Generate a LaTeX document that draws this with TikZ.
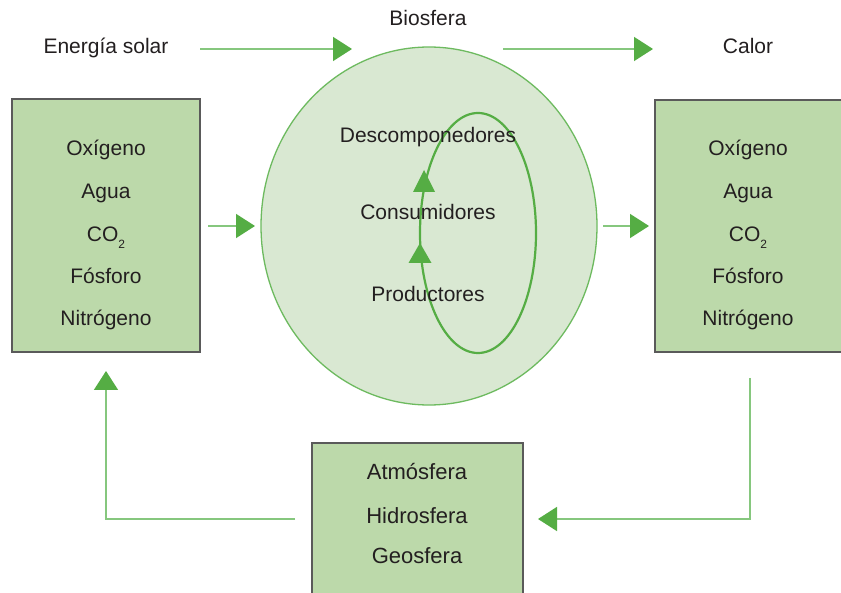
\documentclass[tikz,border=0pt]{standalone}
\usepackage{fontspec}
\setmainfont{Liberation Sans}
\usetikzlibrary{arrows.meta,shapes.geometric}
\definecolor{boxfill}{HTML}{BCD9AA}
\definecolor{boxdraw}{HTML}{5A5A5A}
\definecolor{biofill}{HTML}{D9E8D2}
\definecolor{biodraw}{HTML}{6DBA5F}
\definecolor{linegreen}{HTML}{86C77E}
\definecolor{tipgreen}{HTML}{55AD44}
\definecolor{textcol}{HTML}{231F20}
\tikzset{
  lbl/.style={anchor=base, inner sep=0pt, text=textcol, font=\fontsize{21}{25}\selectfont},
  blbl/.style={anchor=base, inner sep=0pt, text=textcol, font=\fontsize{22}{26}\selectfont},
  stockbox/.style={draw=boxdraw, fill=boxfill, line width=1.3pt, inner sep=0pt},
  flow/.style={draw=linegreen, line width=1.5pt, -{Triangle[length=19pt,width=24pt,color=tipgreen]}},
  looptip/.style={fill=tipgreen},
}
\newcommand{\cotwo}{CO\raisebox{-7pt}{\fontsize{12}{12}\selectfont 2}}
\begin{document}
\begin{tikzpicture}[x=1pt,y=-1pt]
\clip (0,0) rectangle (841,593);
\fill[white] (0,0) rectangle (841,593);

% boxes
\node[stockbox, minimum width=188pt, minimum height=253pt] (lbox) at (106,225.5) {};
\node[stockbox, minimum width=190pt, minimum height=252pt] (rbox) at (750,226) {};
\node[stockbox, minimum width=211pt, minimum height=157pt] (bbox) at (417.5,521.5) {};

% biosphere
\node[ellipse, draw=biodraw, fill=biofill, line width=1.3pt, minimum width=336pt, minimum height=358pt, inner sep=0pt] (bio) at (429,226) {};
\node[ellipse, draw=tipgreen, line width=2.2pt, minimum width=116pt, minimum height=240pt, inner sep=0pt] (loop) at (478,233) {};
\fill[looptip] (424,170) -- (413,192) -- (435,192) -- cycle;
\fill[looptip] (420,243) -- (408.5,263) -- (431.5,263) -- cycle;

% top labels
\node[lbl] (energia) at (106,54) {Energía solar};
\node[lbl] (biosfera) at (428,26) {Biosfera};
\node[lbl] (calor) at (748,54) {Calor};

% biosphere labels
\node[lbl] (desc) at (428,143) {Descomponedores};
\node[lbl] (cons) at (428,220) {Consumidores};
\node[lbl] (prod) at (428,302) {Productores};

% left box labels
\node[lbl] (lo) at (106,156) {Oxígeno};
\node[lbl] (la) at (106,199) {Agua};
\node[lbl] (lc) at (106,242) {\cotwo};
\node[lbl] (lf) at (106,284) {Fósforo};
\node[lbl] (ln) at (106,326) {Nitrógeno};

% right box labels
\node[lbl] (ro) at (748,156) {Oxígeno};
\node[lbl] (ra) at (748,199) {Agua};
\node[lbl] (rc) at (748,242) {\cotwo};
\node[lbl] (rf) at (748,284) {Fósforo};
\node[lbl] (rn) at (748,326) {Nitrógeno};

% bottom box labels
\node[blbl] (atm) at (417,479) {Atmósfera};
\node[blbl] (hid) at (417,523) {Hidrosfera};
\node[blbl] (geo) at (417,563) {Geosfera};

% arrows
\coordinate (e1) at (200,49);
\coordinate (e2) at (352,49);
\coordinate (c1) at (503,49);
\coordinate (c2) at (653,49);
\draw[flow] (e1) -- (e2);
\draw[flow] (c1) -- (c2);

\coordinate (lb1) at (208,226);
\coordinate (lb2) at (255,226);
\draw[flow] (lb1) -- (lb2);
\coordinate (rb1) at (603,226);
\coordinate (rb2) at (649,226);
\draw[flow] (rb1) -- (rb2);

\coordinate (r1) at (750,378);
\coordinate (r2) at (538,519);
\draw[flow] (r1) |- (r2);
\coordinate (l1) at (295,519);
\coordinate (l2) at (106,371);
\draw[flow] (l1) -| (l2);
\end{tikzpicture}
\end{document}
